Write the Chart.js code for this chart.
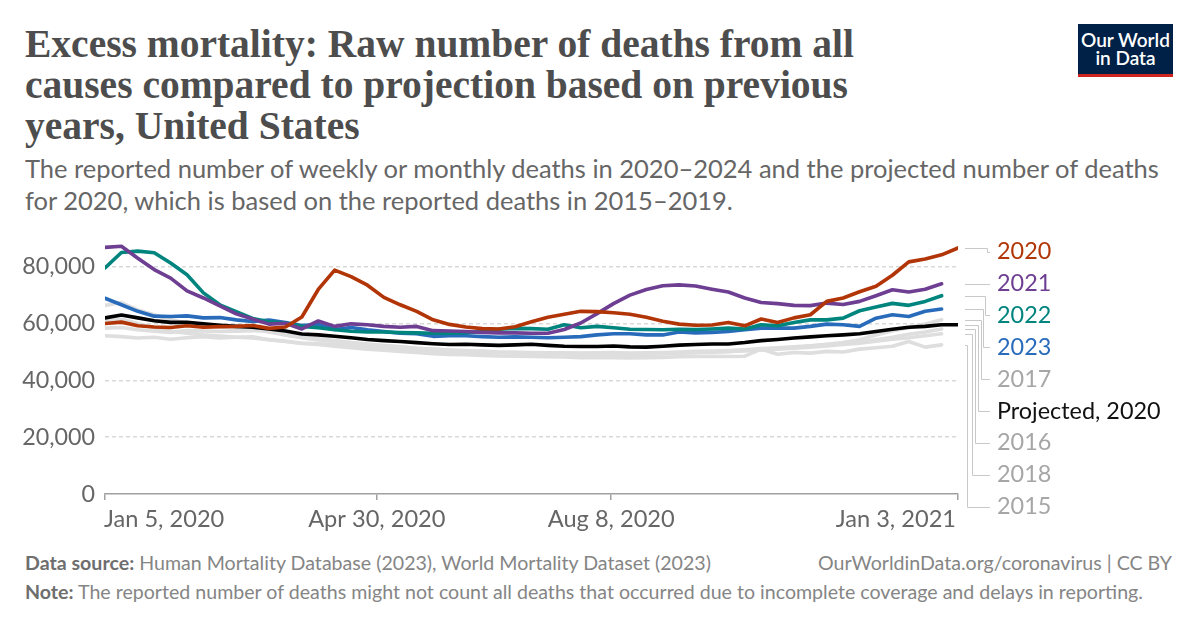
<!DOCTYPE html>
<html><head><meta charset="utf-8">
<script src="https://cdn.jsdelivr.net/npm/chart.js@4.4.1/dist/chart.umd.min.js"></script>
<style>
body{margin:0;background:#fff;}
#wrap{position:relative;width:1200px;height:628px;overflow:hidden;background:#fff;font-family:Lato,sans-serif;}
.t{position:absolute;white-space:nowrap;}
</style></head><body>
<div id="wrap">
 <div class="t" style="left:25px;top:24px;font:bold 39.5px/41px 'Liberation Serif',serif;color:#4d4d4d;">Excess mortality: Raw number of deaths from all<br>causes compared to projection based on previous<br>years, United States</div>
 <div class="t" style="left:25px;top:152px;font:25.5px/32px Lato,sans-serif;color:#666;">The reported number of weekly or monthly deaths in 2020–2024 and the projected number of deaths<br>for 2020, which is based on the reported deaths in 2015–2019.</div>
 <div style="position:absolute;left:1078px;top:24px;width:95px;height:50px;background:#002147;border-bottom:3px solid #ce261e;color:#fff;font:600 19px/18px Lato,sans-serif;text-align:center;display:flex;flex-direction:column;justify-content:center;">Our World<br>in Data</div>
 <div style="position:absolute;left:0;top:230px;width:1200px;height:310px;"><canvas id="c" width="1200" height="310"></canvas></div>
 <div class="t" style="left:25px;top:552px;font:19.6px/22px Lato,sans-serif;color:#858585;"><b style="color:#6e6e6e">Data source:</b> Human Mortality Database (2023), World Mortality Dataset (2023)</div>
 <div class="t" style="right:28px;top:552px;font:19.6px/22px Lato,sans-serif;color:#858585;">OurWorldinData.org/coronavirus | CC BY</div>
 <div class="t" style="left:25px;top:581px;font:19.6px/22px Lato,sans-serif;color:#858585;"><b style="color:#6e6e6e">Note:</b> The reported number of deaths might not count all deaths that occurred due to incomplete coverage and delays in reporting.</div>
</div>
<script>
const weeks = [1,2,3,4,5,6,7,8,9,10,11,12,13,14,15,16,17,18,19,20,21,22,23,24,25,26,27,28,29,30,31,32,33,34,35,36,37,38,39,40,41,42,43,44,45,46,47,48,49,50,51,52,53];
const xTickWeeks = [1, 17.57, 31.86, 53];
const xTickLabels = ['Jan 5, 2020', 'Apr 30, 2020', 'Aug 8, 2020', 'Jan 3, 2021'];
const yTickValues = [0, 20000, 40000, 60000, 80000];

const y2020 = [60000,60500,59200,58800,58600,59200,58700,58900,59000,59300,58300,58800,62300,72000,78800,76500,73500,69200,66600,64300,61300,59700,58800,58200,58100,58900,60600,62200,63300,64300,64200,63800,63300,62200,60800,59800,59400,59500,60400,59200,61600,60400,62000,63100,67800,69000,71200,73100,77000,81700,82700,84200,86600];
const y2021 = [86800,87200,83000,79000,76000,71500,69000,66200,63400,61600,59800,60100,58100,60900,59000,59900,59600,59000,58700,59000,57500,57400,57200,56900,56700,56700,56600,56600,57900,60200,63500,67000,70000,72000,73300,73600,73200,72100,71100,69000,67400,67000,66400,66300,67200,66700,67800,69800,71900,71100,72100,74000];
const y2022 = [79600,85000,85500,84900,81300,77200,70800,66600,64200,61800,60600,60200,59000,58500,57800,57300,57000,57000,56800,56700,56600,56600,56800,57200,58000,58300,58200,58000,59600,58500,59000,58500,58000,57900,57800,58000,57900,58100,58400,58100,59600,59200,60400,61300,61300,61900,64500,65800,67100,66400,67800,69800];
const y2023 = [68900,66600,64300,62600,62500,62700,62000,62100,61300,60700,61200,60400,59300,59700,57900,58600,57800,57200,56600,56400,55500,55700,55700,55400,55200,55300,55200,55000,55200,55400,56000,56400,56400,56000,56000,57000,56700,56900,57200,57800,58400,58400,58400,59000,59800,59600,59000,61900,63100,62500,64300,65100];
const projected2020 = [62000,63000,62000,61000,60400,60400,59900,59400,59000,58700,58100,57400,56300,56000,55500,55000,54400,54000,53700,53300,52900,52600,52700,52500,52300,52500,52700,52300,52000,51900,51900,52100,51800,51700,52000,52400,52600,52800,52800,53300,54000,54400,54900,55300,55700,56000,56400,57200,58000,58700,59000,59600,59600];
const y2015 = [61000,61500,60000,58500,57300,56600,56000,55600,55200,54900,54300,53800,53000,52600,52000,51500,51000,50600,50200,49800,49400,49100,49000,48800,48600,48500,48400,48300,48200,48000,48100,48000,47900,48000,48100,48300,48400,48500,48400,48500,51000,49200,49800,49600,50200,50000,51000,51500,52000,53700,51700,52500];
const y2016 = [58400,58600,57800,57300,56900,57500,57400,57200,57300,57500,57600,56000,55000,54200,53800,53200,52600,52200,51800,51300,51000,50700,50500,50300,50000,49900,49800,49700,49700,49600,49700,49800,49600,49700,49800,50000,50200,50300,50500,50800,51200,51500,51800,52200,52600,53000,53400,54300,55200,56200,57000,58100];
const y2017 = [55700,55400,54900,55200,54500,55000,55400,54900,55200,55300,54300,53700,53100,52900,52700,52300,51800,51500,51200,50800,50500,50200,50000,49900,49700,49600,49500,49400,49300,49200,49300,49200,49100,49200,49400,49600,49700,49900,50100,50400,50800,51200,51600,52100,52700,53300,54300,56000,57500,58500,59800,61300];
const y2018 = [66400,67400,64800,63100,61300,60200,59600,58800,58300,57800,57000,56000,55200,54600,54000,53300,52800,52300,51800,51300,51000,50600,50300,50100,49900,49800,49700,49600,49500,49400,49400,49300,49200,49300,49400,49600,49800,50000,50200,50400,50700,51000,51300,51700,52100,52600,53100,53800,54500,55000,55700,56400];

const seriesNames = ['2020','2021','2022','2023','Projected, 2020','2017','2016','2018','2015'];
const seriesValues = [y2020, y2021, y2022, y2023, projected2020, y2017, y2016, y2018, y2015];
const lineColors = ['#b13507','#6d3e91','#00847e','#286bbb','#000000','#dedede','#dedede','#dedede','#dedede'];
const textColors = ['#b13507','#6d3e91','#00847e','#286bbb','#111111','#a6a6a6','#a6a6a6','#a6a6a6','#a6a6a6'];
const bendX = [987, 987, 985, 983, 980.5, 978, 975, 971.5, 967];

const datasets = seriesNames.map((n, k) => ({
  label: n,
  data: seriesValues[k].map((v, i) => ({x: weeks[i], y: v})),
  borderColor: lineColors[k],
  borderWidth: 3.6,
  pointRadius: 0,
  tension: 0,
  fill: false,
  borderJoinStyle: 'round',
  borderCapStyle: 'round',
  order: k
}));

const overlay = {
  id: 'overlay',
  afterDraw(chart) {
    const ctx = chart.ctx, xs = chart.scales.x, ys = chart.scales.y, area = chart.chartArea;
    ctx.save();
    ctx.font = '23.6px Lato, sans-serif';
    ctx.fillStyle = '#666';
    ctx.textBaseline = 'middle';
    xTickWeeks.forEach((w, i) => {
      ctx.textAlign = i === 0 ? 'left' : (i === xTickWeeks.length - 1 ? 'right' : 'center');
      let px = xs.getPixelForValue(w);
      if (i === 0) px -= 1;
      if (i === xTickWeeks.length - 1) px -= 2;
      ctx.fillText(xTickLabels[i], px, area.bottom + 25);
    });
    // legend
    const ends = seriesNames.map((n, k) => ({k, v: seriesValues[k][seriesValues[k].length - 1]}));
    ends.sort((a, b) => b.v - a.v);
    ctx.font = '23.4px Lato, sans-serif';
    ctx.textAlign = 'left';
    ends.forEach((e, r) => {
      const ly = 21.7 + r * 31.87;
      const ey = ys.getPixelForValue(e.v);
      const bx = Math.round(bendX[r]) + 0.5;
      ctx.strokeStyle = '#c8c8c8';
      ctx.lineWidth = 1;
      ctx.beginPath();
      ctx.moveTo(965, Math.round(ey) + 0.5);
      ctx.lineTo(bx, Math.round(ey) + 0.5);
      ctx.lineTo(bx, Math.round(ly) + 0.5);
      ctx.lineTo(990, Math.round(ly) + 0.5);
      ctx.stroke();
      ctx.fillStyle = textColors[e.k];
      ctx.fillText(seriesNames[e.k], 997, ly);
    });
    ctx.restore();
  }
};

new Chart(document.getElementById('c'), {
  type: 'line',
  data: { datasets },
  options: {
    responsive: false,
    animation: false,
    layout: { padding: { top: 14, right: 242, left: 0, bottom: 0 } },
    plugins: { legend: { display: false }, tooltip: { enabled: false } },
    scales: {
      x: {
        type: 'linear', min: 1, max: 53,
        afterBuildTicks: s => { s.ticks = xTickWeeks.map(v => ({value: v})); },
        afterFit: s => { s.height = 46; s.paddingLeft = 0; s.paddingRight = 0; },
        ticks: { display: false },
        grid: { display: true, drawOnChartArea: false, drawTicks: true, tickLength: 6, color: '#a0a0a0', lineWidth: 1.5 },
        border: { display: true, color: '#a0a0a0', width: 1.5 }
      },
      y: {
        type: 'linear', min: 0, max: 88000,
        afterBuildTicks: s => { s.ticks = yTickValues.map(v => ({value: v})); },
        afterFit: s => { s.width = 105; s.paddingTop = 0; s.paddingBottom = 0; },
        ticks: { callback: v => v.toLocaleString('en-US'), font: { family: 'Lato', size: 23.3 }, color: '#666', padding: 10 },
        grid: { color: c => (c.tick && c.tick.value === 0) ? 'rgba(0,0,0,0)' : '#d9d9d9', lineWidth: 1.5, drawTicks: false },
        border: { display: false, dash: [4, 3] }
      }
    }
  },
  plugins: [overlay]
});
</script>
</body></html>
